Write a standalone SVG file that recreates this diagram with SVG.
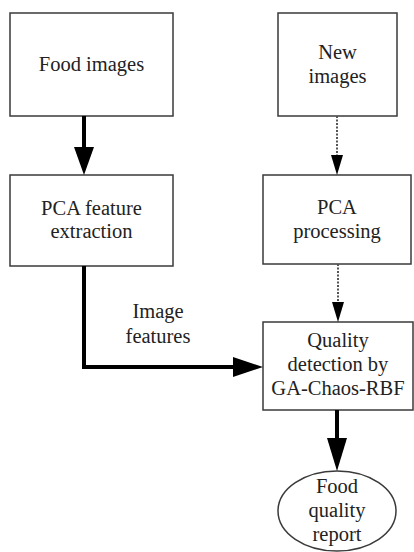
<svg xmlns="http://www.w3.org/2000/svg" width="414" height="552" viewBox="0 0 414 552">
<style>
.box{fill:#fff;stroke:#3a3a3a;stroke-width:1.5}
.t{font-family:'Liberation Serif','Times New Roman','DejaVu Serif',serif;font-size:20.5px;fill:#222;text-anchor:middle}
.thick{fill:none;stroke:#000;stroke-width:4}
.dot{fill:none;stroke:#555;stroke-width:2;stroke-dasharray:2 1.5}
</style>
<rect width="414" height="552" fill="#fff"/>
<g id="food-images"><rect class="box" x="10" y="13" width="163" height="103"/><text class="t" x="91.5" y="71">Food images</text></g>
<g id="new-images"><rect class="box" x="278" y="13" width="119" height="103"/><text class="t" x="337.5" y="59">New</text><text class="t" x="337.5" y="83">images</text></g>
<g id="pca-feature"><rect class="box" x="10" y="175" width="163" height="91"/><text class="t" x="91.5" y="215">PCA feature</text><text class="t" x="91.5" y="238">extraction</text></g>
<g id="pca-processing"><rect class="box" x="263" y="175" width="148" height="89"/><text class="t" x="337" y="214">PCA</text><text class="t" x="337" y="238">processing</text></g>
<g id="quality-detection"><rect class="box" x="263" y="322" width="150" height="88"/><text class="t" x="338" y="347">Quality</text><text class="t" x="338" y="371">detection by</text><text class="t" x="338" y="395">GA-Chaos-RBF</text></g>
<g id="report"><ellipse class="box" cx="337" cy="511" rx="59" ry="40"/><text class="t" x="337" y="493">Food</text><text class="t" x="337" y="517">quality</text><text class="t" x="337" y="541">report</text></g>
<g id="connectors">
<line class="thick" x1="84" y1="116" x2="84" y2="148"/>
<polygon points="74,147 94,147 84,175" fill="#000"/>
<line class="dot" x1="337" y1="116" x2="337" y2="156"/>
<polygon points="331,155 343,155 337,175" fill="#000"/>
<line class="dot" x1="338" y1="264" x2="338" y2="303"/>
<polygon points="332,302 344,302 338,322" fill="#000"/>
<polyline class="thick" points="84,266 84,367 234,367"/>
<polygon points="233,357 233,377 263,367" fill="#000"/>
<line class="thick" x1="337" y1="410" x2="337" y2="439"/>
<polygon points="327,438 347,438 337,471" fill="#000"/>
<text class="t" x="158" y="318">Image</text>
<text class="t" x="158" y="343">features</text>
</g>
</svg>
